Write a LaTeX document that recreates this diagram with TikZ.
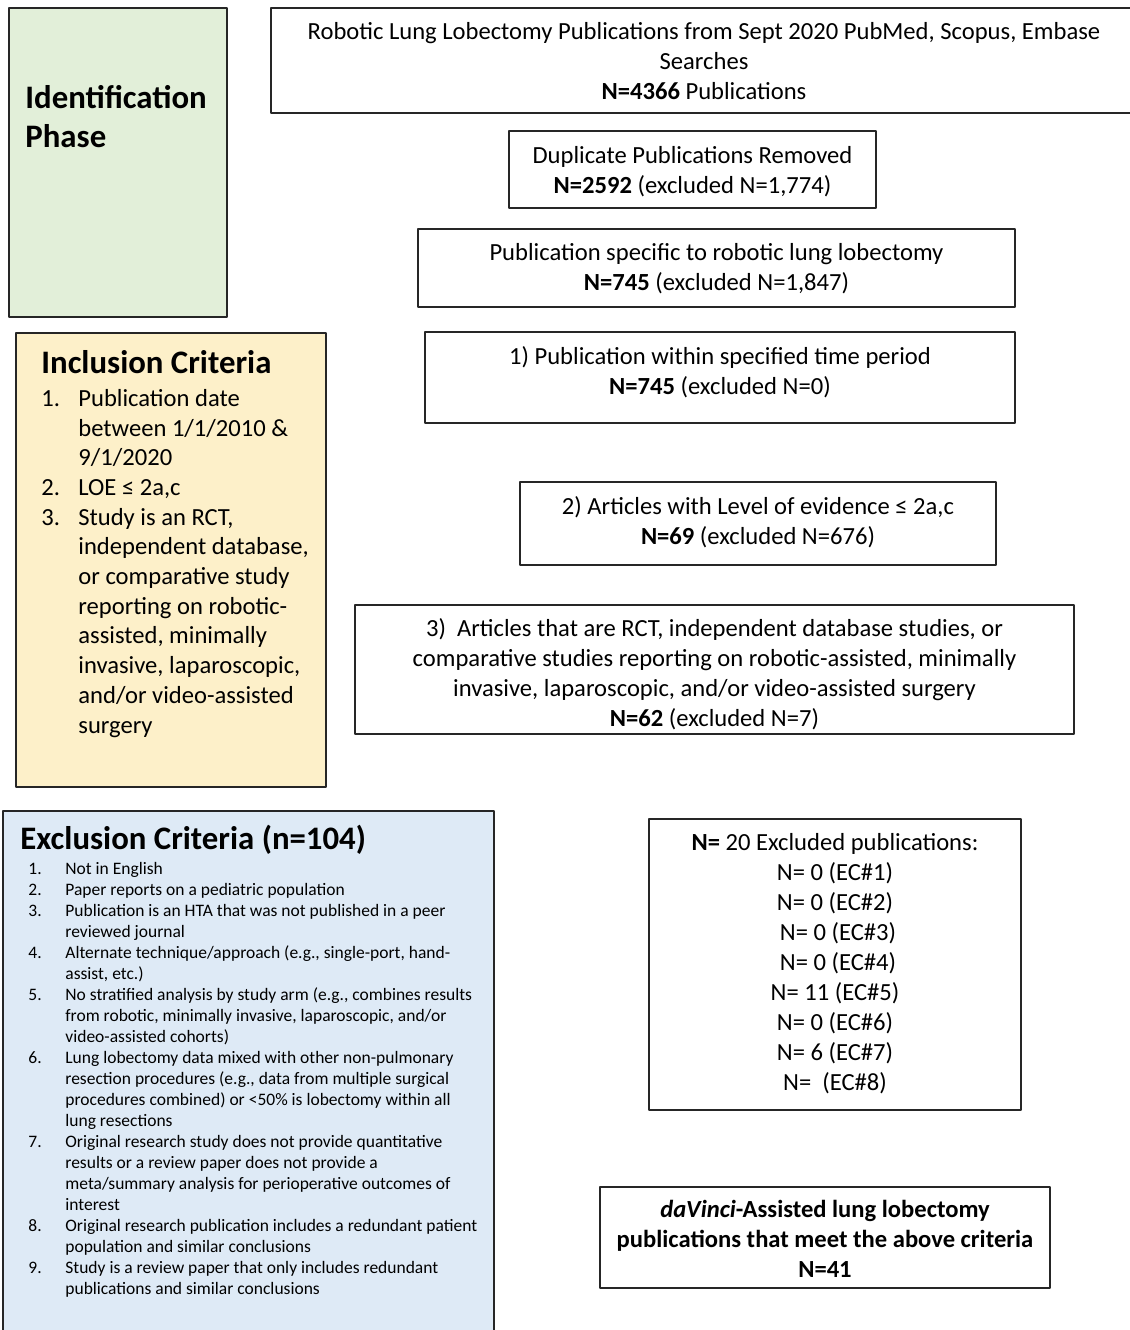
\documentclass[tikz,border=0pt]{standalone}
\usepackage{fontspec}
\setmainfont{Carlito}
\definecolor{idgreen}{HTML}{E2EFD9}
\definecolor{incyellow}{HTML}{FDF0C9}
\definecolor{excblue}{HTML}{DEEAF6}
\tikzset{
  box/.style={draw=black!85,line width=0.75pt},
  txt/.style={inner sep=0pt,anchor=base,align=center,font=\fontsize{12.3}{15}\selectfont},
  lst/.style={inner sep=0pt,anchor=base west,align=left},
  head/.style={inner sep=0pt,anchor=base west,align=left,font=\fontsize{16.4}{19.5}\selectfont\bfseries},
}
\newcommand{\itemno}[1]{\makebox[18.5pt][l]{#1}}
\begin{document}
\begin{tikzpicture}[x=0.5pt,y=-0.5pt,line join=round,line cap=round]
\useasboundingbox (0,0) rectangle (1130,1330);
% left column
\coordinate (idA) at (9,8);
\coordinate (idB) at (227,317);
\coordinate (incA) at (16,333);
\coordinate (incB) at (326,787);
\coordinate (excA) at (3,811);
\coordinate (excB) at (494,1345);
\fill[idgreen] (idA) rectangle (idB);
\fill[incyellow] (incA) rectangle (incB);
\fill[excblue] (excA) rectangle (excB);
\draw[box] (idA) rectangle (idB);
\draw[box] (incA) rectangle (incB);
\draw[box] (excA) rectangle (excB);

% right column
\coordinate (srcA) at (271,8);
\coordinate (srcB) at (1137,113);
\coordinate (dupA) at (509,131);
\coordinate (dupB) at (876,208);
\coordinate (specA) at (418,229);
\coordinate (specB) at (1015,307);
\coordinate (timeA) at (425,332);
\coordinate (timeB) at (1015,423);
\coordinate (loeA) at (520,482);
\coordinate (loeB) at (996,565);
\coordinate (rctA) at (355,605);
\coordinate (rctB) at (1074,734);
\coordinate (ecA) at (649,819);
\coordinate (ecB) at (1021,1110);
\coordinate (finA) at (600,1187);
\coordinate (finB) at (1050,1288);
\draw[box] (srcA) rectangle (srcB) (dupA) rectangle (dupB) (specA) rectangle (specB);
\draw[box] (timeA) rectangle (timeB) (loeA) rectangle (loeB) (rctA) rectangle (rctB);
\draw[box] (ecA) rectangle (ecB) (finA) rectangle (finB);

% texts (base = last line)
\node[head] (idtxt) at (25,147) {Identification\\Phase};
\node[head] (inchead) at (41,373) {Inclusion Criteria};
\node[lst,font=\fontsize{12.3}{14.85}\selectfont] (inclist) at (41,733) {\itemno{1.}Publication date\\
  \itemno{}between 1/1/2010 \&\\ \itemno{}9/1/2020\\
  \itemno{2.}LOE ≤ 2a,c\\
  \itemno{3.}Study is an RCT,\\ \itemno{}independent database,\\ \itemno{}or comparative study\\
  \itemno{}reporting on robotic-\\ \itemno{}assisted, minimally\\ \itemno{}invasive, laparoscopic,\\
  \itemno{}and/or video-assisted\\ \itemno{}surgery};
\node[head] (exchead) at (20,849) {Exclusion Criteria (n=104)};
\node[lst,font=\fontsize{8.75}{10.48}\selectfont] (exclist) at (28,1294) {\itemno{1.}Not in English\\
  \itemno{2.}Paper reports on a pediatric population\\
  \itemno{3.}Publication is an HTA that was not published in a peer\\ \itemno{}reviewed journal\\
  \itemno{4.}Alternate technique/approach (e.g., single-port, hand-\\ \itemno{}assist, etc.)\\
  \itemno{5.}No stratified analysis by study arm (e.g., combines results\\
  \itemno{}from robotic, minimally invasive, laparoscopic, and/or\\ \itemno{}video-assisted cohorts)\\
  \itemno{6.}Lung lobectomy data mixed with other non-pulmonary\\
  \itemno{}resection procedures (e.g., data from multiple surgical\\
  \itemno{}procedures combined) or <50\% is lobectomy within all\\ \itemno{}lung resections\\
  \itemno{7.}Original research study does not provide quantitative\\
  \itemno{}results or a review paper does not provide a\\
  \itemno{}meta/summary analysis for perioperative outcomes of\\ \itemno{}interest\\
  \itemno{8.}Original research publication includes a redundant patient\\
  \itemno{}population and similar conclusions\\
  \itemno{9.}Study is a review paper that only includes redundant\\
  \itemno{}publications and similar conclusions};

\node[txt] (srctxt) at (704,99) {Robotic Lung Lobectomy Publications from Sept 2020 PubMed, Scopus, Embase\\
  Searches\\ \textbf{N=4366} Publications};
\node[txt] (duptxt) at (692.5,193) {Duplicate Publications Removed\\ \textbf{N=2592} (excluded N=1,774)};
\node[txt] (spectxt) at (716.5,290) {Publication specific to robotic lung lobectomy\\ \textbf{N=745} (excluded N=1,847)};
\node[txt] (timetxt) at (720,394) {1) Publication within specified time period\\ \textbf{N=745} (excluded N=0)};
\node[txt] (loetxt) at (758,544) {2) Articles with Level of evidence ≤ 2a,c\\ \textbf{N=69} (excluded N=676)};
\node[txt] (rcttxt) at (714.5,726) {3)\ \ Articles that are RCT, independent database studies, or\\
  comparative studies reporting on robotic-assisted, minimally\\
  invasive, laparoscopic, and/or video-assisted surgery\\ \textbf{N=62} (excluded N=7)};
\node[txt] (ectxt) at (835,1090) {\textbf{N=} 20 Excluded publications:\\
  N= 0 (EC\#1)\\ N= 0 (EC\#2)\\ \hspace*{3pt}N= 0 (EC\#3)\\ \hspace*{3pt}N= 0 (EC\#4)\\
  N= 11 (EC\#5)\\ N= 0 (EC\#6)\\ N= 6 (EC\#7)\\ N=\ \ (EC\#8)};
\node[txt,font=\fontsize{12.3}{14.8}\selectfont\bfseries] (fintxt) at (825,1277) {\textit{daVinci}-Assisted lung lobectomy\\
  publications that meet the above criteria\\ N=41};
\end{tikzpicture}
\end{document}
